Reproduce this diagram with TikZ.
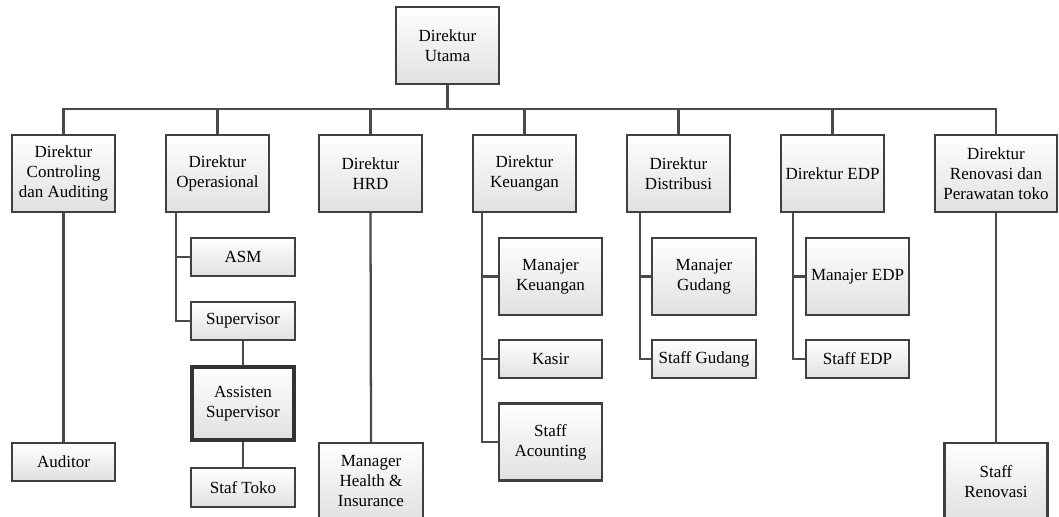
\documentclass[tikz,border=0pt]{standalone}
\usepackage{fontspec}
\setmainfont{Liberation Serif}
\usetikzlibrary{shadows}
\definecolor{edge}{HTML}{404040}
\definecolor{wire}{HTML}{4A4A4A}
\tikzset{
  box/.style n args={2}{draw=edge, line width=1.7pt, top color=white, bottom color=black!12,
    minimum width=#1*0.75pt, minimum height=#2*0.75pt, inner sep=1pt, align=center,
    font=\fontsize{12.75}{15}\selectfont,
    drop shadow={shadow xshift=1.1pt, shadow yshift=-1.1pt, fill=black!35, opacity=0.5}},
  thickbox/.style={line width=3.2pt, draw=black!80},
  wire/.style={draw=wire, line width=1.7pt}
}
\begin{document}
\begin{tikzpicture}[x=0.75pt,y=-0.75pt]
\useasboundingbox (0,0) rectangle (1059,517);
% top
\node[box={103}{77}] (utama) at (447.5,45.5) {Direktur\\Utama};
% level 1
\node[box={103}{77}] (ctrl) at (63.5,173.5) {Direktur\\Controling\\dan Auditing};
\node[box={103}{77}] (ops)  at (217.5,173.5) {Direktur\\Operasional};
\node[box={103}{77}] (hrd)  at (370.5,173.5) {Direktur\\HRD};
\node[box={103}{77}] (keu)  at (524.5,173.5) {Direktur\\Keuangan};
\node[box={103}{77}] (dist) at (678.5,173.5) {Direktur\\Distribusi};
\node[box={103}{77}] (edp)  at (832.5,173.5) {Direktur EDP};
\node[box={122}{77}] (reno) at (996,173.5) {Direktur\\Renovasi dan\\Perawatan toko};
% children
\node[box={103}{38}] (auditor) at (63.5,462) {Auditor};
\node[box={104}{38}] (asm) at (243,257) {ASM};
\node[box={104}{38}] (sup) at (243,321) {Supervisor};
\node[box={102}{73}, thickbox] (asis) at (243,403.5) {Assisten\\Supervisor};
\node[box={104}{39}] (staf) at (243,487.5) {Staf Toko};
\node[box={104}{77}] (mhi) at (371,481.5) {Manager\\Health \&\\Insurance};
\node[box={103}{77}] (mk) at (550.5,276.5) {Manajer\\Keuangan};
\node[box={103}{38}] (kasir) at (550.5,359) {Kasir};
\node[box={103}{77}] (sacc) at (550.5,442) {Staff\\Acounting};
\node[box={104}{77}] (mg) at (704,276.5) {Manajer\\Gudang};
\node[box={104}{38}] (sg) at (704,359) {Staff Gudang};
\node[box={103}{77}] (medp) at (857.5,276.5) {Manajer EDP};
\node[box={103}{38}] (sedp) at (857.5,359) {Staff EDP};
\node[box={103}{77}] (sreno) at (996,481.5) {Staff\\Renovasi};
% bus
\coordinate (bus) at (447.5,109);
\foreach \n in {ctrl,ops,hrd,keu,dist,edp,reno}{
  \draw[wire] (utama.south) -- (bus) -| (\n.north);
}
\draw[wire] (ctrl.south) -- (auditor.north);
\draw[wire] ([xshift=11*0.75pt]ops.south west) |- (asm.west);
\draw[wire] ([xshift=11*0.75pt]ops.south west) |- (sup.west);
\draw[wire] (sup.south) -- (asis.north);
\draw[wire] (asis.south) -- (staf.north);
\draw[wire] (hrd.south) -- (mhi.north);
\draw[wire] ([xshift=10*0.75pt]keu.south west) |- (mk.west);
\draw[wire] ([xshift=10*0.75pt]keu.south west) |- (kasir.west);
\draw[wire] ([xshift=10*0.75pt]keu.south west) |- (sacc.west);
\draw[wire] ([xshift=14*0.75pt]dist.south west) |- (mg.west);
\draw[wire] ([xshift=14*0.75pt]dist.south west) |- (sg.west);
\draw[wire] ([xshift=13*0.75pt]edp.south west) |- (medp.west);
\draw[wire] ([xshift=13*0.75pt]edp.south west) |- (sedp.west);
\draw[wire] (reno.south) -- (sreno.north);
\end{tikzpicture}
\end{document}
